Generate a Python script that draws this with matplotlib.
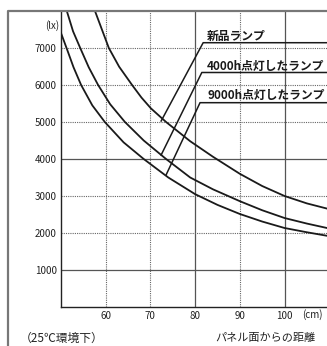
import matplotlib
matplotlib.use("Agg")
import matplotlib.pyplot as plt
from matplotlib.lines import Line2D

plt.rcParams['font.family'] = ['Noto Sans CJK JP', 'DejaVu Sans']

# 照度曲線 (距離 cm, 照度 lx) - 図から読み取り
dist_new = [57.6, 60.7, 63, 65.9, 68, 70.1, 73.5, 76, 78.9, 84, 90, 95, 100, 105, 109.5]
lux_new = [8000, 7000, 6495, 6000, 5660, 5370, 5000, 4760, 4480, 4060, 3600, 3270, 3000, 2800, 2660]

dist_4000 = [51.3, 52.7, 54.3, 56.2, 58.3, 61, 64.3, 68.5, 73.5, 78.9, 84, 90, 95, 100, 105, 109.5]
lux_4000 = [8000, 7450, 7000, 6480, 6000, 5480, 5000, 4500, 4000, 3500, 3180, 2860, 2615, 2405, 2255, 2135]

dist_9000 = [50, 51.3, 52.8, 54.5, 57, 59.8, 64, 68.5, 74, 80, 85, 90, 95, 100, 105, 109.5]
lux_9000 = [7405, 6980, 6480, 6000, 5450, 5000, 4450, 4000, 3500, 3050, 2760, 2514, 2310, 2135, 2020, 1925]

x_ticks = [60, 70, 80, 90, 100]
y_ticks = [1000, 2000, 3000, 4000, 5000, 6000, 7000]
solid_x = [80, 100]
solid_y = [1000, 4000]

labels = ['新品ランプ', '4000h点灯したランプ', '9000h点灯したランプ']
# 引き出し線: 曲線上の点, 下線の左端 (データ座標)
leader_tip = [(72.4, 5027), (72.4, 4108), (73.5, 3568)]
leader_start = [(81.8, 7143), (81.5, 6338), (81.1, 5522)]

W, H = 327, 346
fig = plt.figure(figsize=(W / 100, H / 100), dpi=100)


def fx(px):
    return px / W


def fy(py):
    return 1 - py / H


ax = fig.add_axes([fx(61), fy(307), 1 - fx(61), fy(11) - fy(307)])
ax.set_xlim(50, 109.5)
ax.set_ylim(0, 8000)

for x in x_ticks:
    if x in solid_x:
        ax.axvline(x, color='#555555', lw=0.9, zorder=1)
    else:
        ax.axvline(x, color='#666666', lw=0.8, ls=(0, (1, 1)), zorder=1)
for y in y_ticks:
    if y in solid_y:
        ax.axhline(y, color='#555555', lw=0.9, zorder=1)
    else:
        ax.axhline(y, color='#666666', lw=0.8, ls=(0, (1, 1)), zorder=1)

for d, l in [(dist_new, lux_new), (dist_4000, lux_4000), (dist_9000, lux_9000)]:
    ax.plot(d, l, color='#1a1a1a', lw=1.3, zorder=3, solid_joinstyle='round')

for tip, start in zip(leader_tip, leader_start):
    ax.plot([tip[0], start[0], 109.5], [tip[1], start[1], start[1]],
            color='#1a1a1a', lw=1.1, zorder=3)

label_y = [36, 66, 95]
for txt, py in zip(labels, label_y):
    fig.text(fx(207), fy(py), txt, ha='left', va='center', fontsize=8.5,
             fontweight='bold', color='#1a1a1a')

ax.set_xticks(x_ticks)
ax.set_yticks(y_ticks)
ax.tick_params(length=0, labelsize=7, colors='#222222', pad=3)
for s in ['top', 'right']:
    ax.spines[s].set_visible(False)
for s in ['left', 'bottom']:
    ax.spines[s].set_color('#222222')
    ax.spines[s].set_linewidth(1.0)

fig.text(fx(59), fy(26), '(lx)', ha='right', va='center', fontsize=7, color='#222222')
fig.text(fx(302), fy(315), '(cm)', ha='left', va='center', fontsize=7, color='#222222')
fig.text(fx(20), fy(338), '（25℃環境下）', ha='left', va='center', fontsize=8.5, color='#222222')
fig.text(fx(215), fy(338), 'パネル面からの距離', ha='left', va='center', fontsize=8, color='#222222')

# 外枠
fig.add_artist(Line2D([fx(8), fx(8), 1.0], [0, fy(11), fy(11)], color='#777777', lw=1.6))

fig.savefig('out.png', dpi=100)
